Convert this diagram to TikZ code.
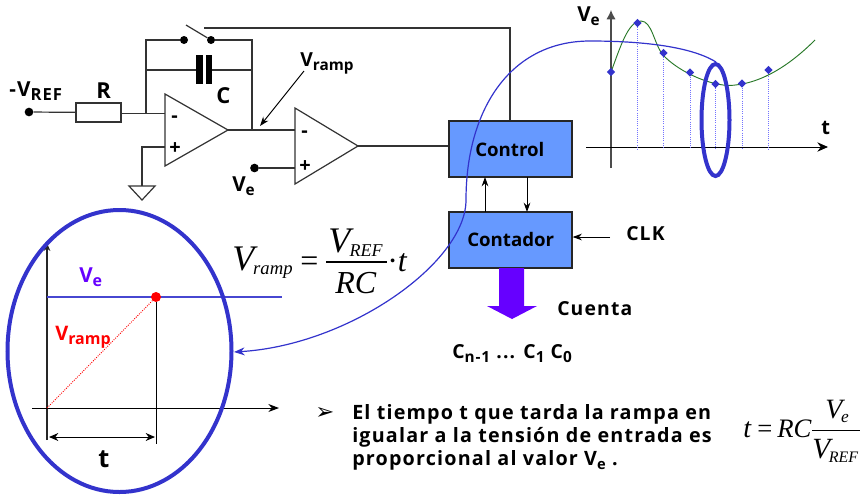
\documentclass[tikz,border=0pt]{standalone}
\usepackage{fontspec}
\setmainfont{Open Sans}
\newfontfamily\spaced[LetterSpace=6]{Open Sans}
\newfontfamily\mathser{Liberation Serif}
\newfontfamily\dv{DejaVu Sans}
\usetikzlibrary{arrows.meta,shapes.geometric}
\definecolor{boxblue}{RGB}{102,153,255}
\definecolor{ringblue}{RGB}{51,51,204}
\definecolor{vio}{RGB}{102,0,255}
\definecolor{grn}{RGB}{40,120,40}
\newcommand{\bt}[2]{{\fontsize{#1}{#1}\selectfont\bfseries #2}}
\newcommand{\bs}[2]{{\spaced\fontsize{#1}{#1}\selectfont\bfseries #2}}
\newcommand{\sbs}[2]{\raisebox{-0.32em}{\fontsize{#1}{#1}\selectfont\bfseries #2}}
\newcommand{\sbsp}[2]{\raisebox{-0.32em}{\spaced\fontsize{#1}{#1}\selectfont\bfseries #2}}
\newcommand{\ms}[2]{{\fontsize{#1}{#1}\selectfont\mathser\itshape #2}}
\newcommand{\msb}[3]{\kern#1\raisebox{-0.36em}{\fontsize{#2}{#2}\selectfont\mathser\itshape #3}}
\tikzset{
  wire/.style={draw=black!80,line width=0.9pt},
  thin wire/.style={draw=black,line width=0.75pt},
  tipped/.style={-{Stealth[length=7pt,width=5pt]}},
  term/.style={circle,fill=black,inner sep=0pt,minimum size=6.5pt},
  blk/.style={draw=black!85,line width=0.9pt,fill=boxblue,inner sep=0pt},
  lbl/.style={inner sep=0pt,anchor=base west},
  ring/.style={draw=ringblue,line width=3pt},
  drop/.style={draw=blue!55,line width=0.6pt,densely dotted},
  sample/.style={diamond,fill=ringblue,inner sep=0pt,minimum size=6.5pt},
}
\begin{document}
\begin{tikzpicture}[x=0.75pt,y=-0.75pt]
\useasboundingbox (0,0) rectangle (860,494);
% circuit
\node[term] (vref) at (29,112) {};
\node[draw=black!80,line width=0.9pt,fill=white,minimum width=33.75pt,minimum height=14.25pt,inner sep=0pt] (res) at (98.5,112.5) {};
\coordinate (j1) at (146,113.5);
\coordinate (j1t) at (146,40);
\coordinate (j1c) at (146,70);
\coordinate (j2) at (252,130);
\coordinate (j2t) at (252,40);
\coordinate (j2c) at (252,70);
\node[term,minimum size=6pt] (swa) at (184,40) {};
\node[term,minimum size=6pt] (swb) at (211,40) {};
\coordinate (swtip) at (186,25);
\draw[wire] (vref) -- (res);
\draw[wire] (res.east |- j1) -- (165,113.5);
\draw[wire] (j1) -- (j1t) -- (swa);
\draw[wire] (swb) -- (j2t) -- (j2);
\draw[wire] (swtip) -- (swb);
\draw[wire] (j1c) -- (197,70);
\draw[wire] (211,70) -- (j2c);
\fill[black] (196,55) rectangle (203,84);
\fill[black] (205.5,55) rectangle (212,84);
% op amps
\draw[wire,fill=white] (165,94) -- (228,130) -- (165,166) -- cycle;
\draw[wire,fill=white] (295,108) -- (358,146) -- (295,184) -- cycle;
\coordinate (oa1o) at (228,130);
\coordinate (oa2o) at (358,146);
\draw[wire] (oa1o) -- (295,130);
\node[term] (ve) at (254.5,168) {};
\draw[wire] (ve) -- (295,168);
\draw[wire] (165,147) -- (142,147) -- (142,186);
\draw[wire,fill=white] (129,186) -- (155,186) -- (142,200) -- cycle;
\node[lbl] (m1) at (171,122) {\bt{15}{-}};
\node[lbl] (p1) at (169,154) {\bt{15}{+}};
\node[lbl] (m2) at (301,137) {\bt{15}{-}};
\node[lbl] (p2) at (299,172) {\bt{15}{+}};
% labels
\node[lbl] (tvref) at (9,96) {\bs{15.5}{-V}\sbsp{12.5}{REF}};
\node[lbl] (tr) at (96,98) {\bt{16.5}{R}};
\node[lbl] (tc) at (216,103) {\bt{16.5}{C}};
\node[lbl] (tramp) at (300,66) {\bt{14.5}{V}\sbs{11.5}{ramp}};
\node[lbl] (tve) at (232,191) {\bt{15.5}{V}\sbs{11.5}{e}};
\coordinate (ra) at (304,71);
\coordinate (rb) at (260,126);
\draw[thin wire,-{Stealth[length=7pt,width=5pt]}] (ra) -- (rb);
% blocks
\node[blk,minimum width=92.25pt,minimum height=42pt] (ctl) at (510.5,149) {};
\node[blk,minimum width=92.25pt,minimum height=42pt] (cnt) at (510.5,240) {};
\coordinate (ctltop) at (510,28);
\coordinate (swlin) at (204,28);
\draw[wire] (swlin) -- (ctltop) -- (ctl.north -| ctltop);
\draw[wire] (oa2o) -- (ctl.west |- oa2o);
\draw[thin wire,tipped] (485,212) -- (485,177);
\draw[thin wire,tipped] (527,177) -- (527,212);
\coordinate (clkc) at (610,237);
\draw[thin wire,tipped] (clkc) -- (cnt.east |- clkc);
\node[lbl] (tclk) at (626,240) {\bs{14.5}{CLK}};
\fill[vio] (499,268) -- (524,268) -- (524,306) -- (537,306) -- (512,319) -- (487,306) -- (499,306) -- cycle;
\node[lbl] (tcue) at (557,315) {\bs{14.5}{Cuenta}};
\node[lbl] (tcn) at (452,358) {\bs{14.5}{C}\sbsp{11.5}{n-1}\bs{14.5}{ ... C}\sbsp{11.5}{1}\bs{14.5}{ C}\sbsp{11.5}{0}};
% right graph
\draw[draw=black!70,line width=0.9pt,-{Latex[length=7pt,width=7pt]}] (611,168) -- (611,10);
\draw[thin wire,-{Stealth[length=8pt,width=7pt]}] (586,147) -- (828,147);
\foreach \px/\py in {637.5/23,663.5/53,690/72.5,715.5/84,742/83.5,768.5/70}
  \draw[drop] (\px,\py) -- (\px,149);
\draw[draw=grn,line width=0.7pt] (611,72) .. controls (620,48) and (628,21) .. (641,21)
  .. controls (652,21) and (654,44) .. (663,55)
  .. controls (677,70) and (705,84) .. (728,85.5)
  .. controls (760,85) and (790,65) .. (815,40);
\foreach \px/\py [count=\i] in {611/72,637.5/23,663.5/53,690/72.5,715.5/84,742/83.5,768.5/70}
  \node[sample] (s\i) at (\px,\py) {};
\node[lbl] (tve2) at (577,21) {\bt{15.5}{V}\sbs{11.5}{e}};
\node[lbl] (tt2) at (821,134) {\bt{15}{t}};
% big ring content
\draw[draw=black!85,line width=0.9pt,-{Stealth[length=6pt,width=5pt]}] (47,440) -- (47,243);
\draw[thin wire,-{Stealth[length=8pt,width=6pt]}] (32,408) -- (279,408);
\draw[draw=ringblue!90!white,line width=0.8pt] (47,297) -- (282,297);
\node[circle,fill=red,inner sep=0pt,minimum size=7.5pt] (hit) at (156,297) {};
\coordinate (o) at (47,408);
\draw[draw=red,line width=0.7pt,densely dotted] (o) -- (hit);
\draw[thin wire] (hit) -- (156,444);
\draw[thin wire,{Stealth[length=7pt,width=6pt]}-{Stealth[length=7pt,width=6pt]}] (49,437) -- (155,437);
\node[lbl] (tt) at (98,467) {\bt{19}{t}};
\node[lbl] (tve3) at (79,282) {\color{vio}\bt{15.5}{V}\sbs{12}{e}};
\node[lbl] (tvr) at (55,340) {\color{red}\bt{15}{V}\sbs{12}{ramp}};
\node[ring,ellipse,minimum width=168pt,minimum height=211.5pt,inner sep=0pt] (bigring) at (119.5,351) {};
\node[ring,ellipse,minimum width=21pt,minimum height=84pt,inner sep=0pt] (smallring) at (715.5,120) {};
% formula 1
\node[lbl] (f1v) at (232,270) {\ms{27}{V}\msb{-0.08em}{14}{ramp}};
\node[lbl] (f1e) at (300,271) {\fontsize{24}{24}\selectfont\mathser =};
\draw[black,line width=0.8pt] (326,262) -- (387,262);
\node[lbl] (f1n) at (328,252) {\ms{27}{V}\msb{-0.05em}{13.5}{REF}};
\node[lbl] (f1d) at (335,293) {\ms{24}{RC}};
\node[lbl] (f1t) at (387,271) {\fontsize{24}{24}\selectfont\mathser ·\itshape t};
% formula 2
\node[lbl] (f2t) at (743,437) {\ms{21}{t}};
\node[lbl] (f2e) at (757,437) {\fontsize{20}{20}\selectfont\mathser =};
\node[lbl] (f2l) at (777,437) {\ms{20}{RC}};
\draw[black,line width=0.7pt] (812,430) -- (860,430);
\node[lbl] (f2n) at (825,418) {\ms{21}{V}\msb{-0.1em}{13}{e}};
\node[lbl] (f2d) at (812,458) {\ms{22}{V}\msb{-0.1em}{12}{REF}};
% bullet text
\node[lbl] (bul) at (315,419) {\fontsize{17}{17}\selectfont\dv ➢};
\node[lbl] (b1) at (352,419) {\bs{14.8}{El tiempo t que tarda la rampa en}};
\node[lbl] (b2) at (352,442) {\bs{14.8}{igualar a la tensión de entrada es}};
\node[lbl] (b3) at (352,465) {\bs{14.8}{proporcional al valor V}\sbsp{11}{e}\bs{14.8}{ .}};
% return curve
\coordinate (cs) at (716,62);
\coordinate (ce) at (234,352);
\draw[draw=ringblue,line width=0.9pt,-{Stealth[length=8pt,width=6pt]}] (cs) .. controls (690,46) and (640,41) .. (590,41)
  .. controls (510,41) and (466,110) .. (466,200)
  .. controls (466,262) and (350,345) .. (ce);
\node[lbl] (tctl) at (475,156) {\bt{14}{Control}};
\node[lbl] (tcnt) at (467,246) {\bt{14}{Contador}};
\end{tikzpicture}
\end{document}
